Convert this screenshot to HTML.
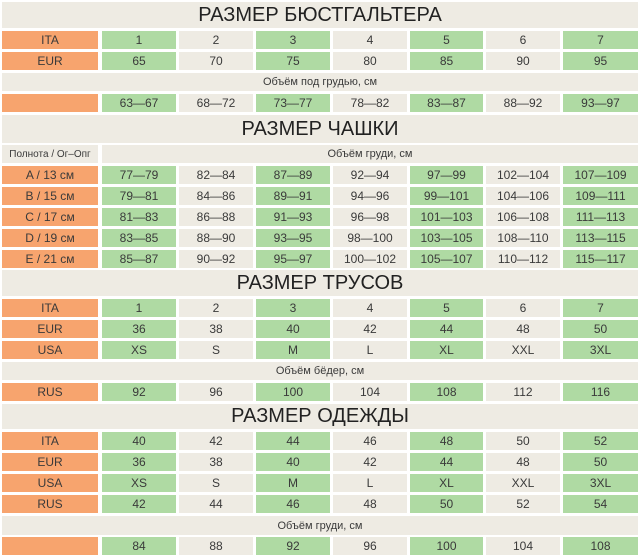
<!DOCTYPE html>
<html><head><meta charset="utf-8"><style>
body{margin:0;width:640px;height:558px;background:#fff;position:relative;overflow:hidden;font-family:"Liberation Sans",sans-serif;color:#3a3a3a}
.r{position:absolute;left:0;width:640px;height:18px}
.r div{position:absolute;top:0;height:100%;display:flex;align-items:center;justify-content:center;font-size:12px}
.o{background:#f7a46e}.g{background:#afdaa3}.b{background:#eeebe3}
.c0{left:2px;width:96px}.c1{left:102px;width:74px}.c2{left:179px;width:74px}.c3{left:256px;width:74px}.c4{left:333px;width:74px}.c5{left:410px;width:73px}.c6{left:486px;width:74px}.c7{left:563px;width:75px}
.full{left:2px;width:636px}.span{left:102px;width:536px}
.t div{font-size:20px;color:#222}
.s div{font-size:11px}
</style></head><body>
<div class="r t" style="top:2px;height:26px"><div class="b full">РАЗМЕР БЮСТГАЛЬТЕРА</div></div>
<div class="r" style="top:31px"><div class="o c0">ITA</div><div class="g c1">1</div><div class="b c2">2</div><div class="g c3">3</div><div class="b c4">4</div><div class="g c5">5</div><div class="b c6">6</div><div class="g c7">7</div></div>
<div class="r" style="top:52px"><div class="o c0">EUR</div><div class="g c1">65</div><div class="b c2">70</div><div class="g c3">75</div><div class="b c4">80</div><div class="g c5">85</div><div class="b c6">90</div><div class="g c7">95</div></div>
<div class="r s" style="top:73px"><div class="b full">Объём под грудью, см</div></div>
<div class="r" style="top:94px"><div class="o c0"></div><div class="g c1">63—67</div><div class="b c2">68—72</div><div class="g c3">73—77</div><div class="b c4">78—82</div><div class="g c5">83—87</div><div class="b c6">88—92</div><div class="g c7">93—97</div></div>
<div class="r t" style="top:115px;height:28px"><div class="b full">РАЗМЕР ЧАШКИ</div></div>
<div class="r s" style="top:145px"><div class="b c0" style="font-size:10px">Полнота / Ог–Опг</div><div class="b span">Объём груди, см</div></div>
<div class="r" style="top:166px"><div class="o c0">A / 13 см</div><div class="g c1">77—79</div><div class="b c2">82—84</div><div class="g c3">87—89</div><div class="b c4">92—94</div><div class="g c5">97—99</div><div class="b c6">102—104</div><div class="g c7">107—109</div></div>
<div class="r" style="top:187px"><div class="o c0">B / 15 см</div><div class="g c1">79—81</div><div class="b c2">84—86</div><div class="g c3">89—91</div><div class="b c4">94—96</div><div class="g c5">99—101</div><div class="b c6">104—106</div><div class="g c7">109—111</div></div>
<div class="r" style="top:208px"><div class="o c0">C / 17 см</div><div class="g c1">81—83</div><div class="b c2">86—88</div><div class="g c3">91—93</div><div class="b c4">96—98</div><div class="g c5">101—103</div><div class="b c6">106—108</div><div class="g c7">111—113</div></div>
<div class="r" style="top:229px"><div class="o c0">D / 19 см</div><div class="g c1">83—85</div><div class="b c2">88—90</div><div class="g c3">93—95</div><div class="b c4">98—100</div><div class="g c5">103—105</div><div class="b c6">108—110</div><div class="g c7">113—115</div></div>
<div class="r" style="top:250px"><div class="o c0">E / 21 см</div><div class="g c1">85—87</div><div class="b c2">90—92</div><div class="g c3">95—97</div><div class="b c4">100—102</div><div class="g c5">105—107</div><div class="b c6">110—112</div><div class="g c7">115—117</div></div>
<div class="r t" style="top:270px;height:26px"><div class="b full">РАЗМЕР ТРУСОВ</div></div>
<div class="r" style="top:299px"><div class="o c0">ITA</div><div class="g c1">1</div><div class="b c2">2</div><div class="g c3">3</div><div class="b c4">4</div><div class="g c5">5</div><div class="b c6">6</div><div class="g c7">7</div></div>
<div class="r" style="top:320px"><div class="o c0">EUR</div><div class="g c1">36</div><div class="b c2">38</div><div class="g c3">40</div><div class="b c4">42</div><div class="g c5">44</div><div class="b c6">48</div><div class="g c7">50</div></div>
<div class="r" style="top:341px"><div class="o c0">USA</div><div class="g c1">XS</div><div class="b c2">S</div><div class="g c3">M</div><div class="b c4">L</div><div class="g c5">XL</div><div class="b c6">XXL</div><div class="g c7">3XL</div></div>
<div class="r s" style="top:362px"><div class="b full">Объём бёдер, см</div></div>
<div class="r" style="top:383px"><div class="o c0">RUS</div><div class="g c1">92</div><div class="b c2">96</div><div class="g c3">100</div><div class="b c4">104</div><div class="g c5">108</div><div class="b c6">112</div><div class="g c7">116</div></div>
<div class="r t" style="top:404px;height:25px"><div class="b full">РАЗМЕР ОДЕЖДЫ</div></div>
<div class="r" style="top:432px"><div class="o c0">ITA</div><div class="g c1">40</div><div class="b c2">42</div><div class="g c3">44</div><div class="b c4">46</div><div class="g c5">48</div><div class="b c6">50</div><div class="g c7">52</div></div>
<div class="r" style="top:453px"><div class="o c0">EUR</div><div class="g c1">36</div><div class="b c2">38</div><div class="g c3">40</div><div class="b c4">42</div><div class="g c5">44</div><div class="b c6">48</div><div class="g c7">50</div></div>
<div class="r" style="top:474px"><div class="o c0">USA</div><div class="g c1">XS</div><div class="b c2">S</div><div class="g c3">M</div><div class="b c4">L</div><div class="g c5">XL</div><div class="b c6">XXL</div><div class="g c7">3XL</div></div>
<div class="r" style="top:495px"><div class="o c0">RUS</div><div class="g c1">42</div><div class="b c2">44</div><div class="g c3">46</div><div class="b c4">48</div><div class="g c5">50</div><div class="b c6">52</div><div class="g c7">54</div></div>
<div class="r s" style="top:516px;height:19px"><div class="b full">Объём груди, см</div></div>
<div class="r" style="top:537px"><div class="o c0"></div><div class="g c1">84</div><div class="b c2">88</div><div class="g c3">92</div><div class="b c4">96</div><div class="g c5">100</div><div class="b c6">104</div><div class="g c7">108</div></div>
</body></html>
